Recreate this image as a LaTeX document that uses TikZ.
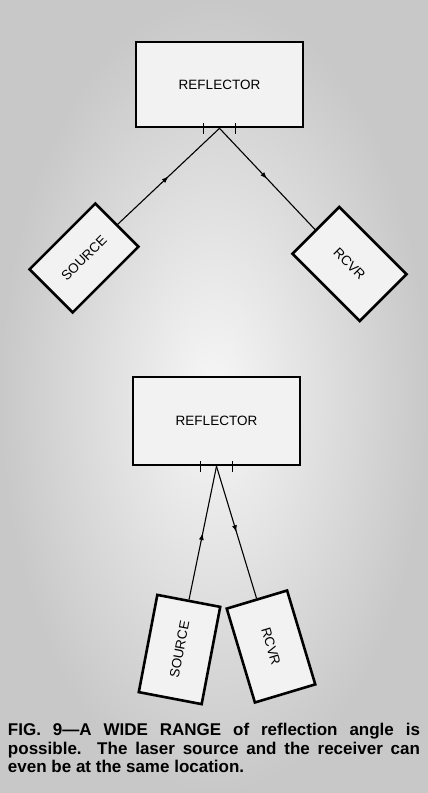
\documentclass[tikz,border=0pt]{standalone}
\usepackage{fontspec}
\setmainfont{Liberation Sans}
\usetikzlibrary{arrows.meta, positioning, decorations.markings}
\definecolor{paperColor}{HTML}{C8C8C8}
\definecolor{boxColor}{HTML}{F2F2F2}

\begin{document}
\begin{tikzpicture}[x=1pt, y=-1pt,
    unit/.style={rectangle, draw=black, fill=boxColor, line width=2.6pt, inner sep=0pt,
        font=\fontsize{13.5}{15}\selectfont},
    beam/.style={line width=1.1pt, postaction={decorate},
        decoration={markings, mark=at position 0.5 with {\arrow{Latex[length=7pt, width=5pt]}}}},
    hitmark/.style={line width=1.6pt}]
    % paper
    \shade[inner color=white!85!paperColor, outer color=paperColor] (0,0) rectangle (428,793);

    % upper case: wide angle
    \node[unit, minimum width=167pt, minimum height=85pt] (refA) at (219.5,84.5) {REFLECTOR};
    \node[unit, minimum width=93pt, minimum height=61pt, rotate=45] (srcA) at (84,258) {SOURCE};
    \node[unit, minimum width=95pt, minimum height=66pt, rotate=-45] (rcvA) at (349.5,264) {RCVR};
    \coordinate (hitA) at (refA.south);
    \draw[hitmark] ([xshift=-16pt]hitA) ++(0,-5) -- ++(0,11);
    \draw[hitmark] ([xshift=16pt]hitA) ++(0,-5) -- ++(0,11);
    \draw[beam] (srcA.east) -- (hitA);
    \draw[beam] (hitA) -- (rcvA.west);

    % lower case: same location
    \node[unit, minimum width=167pt, minimum height=88pt] (refB) at (216.5,421) {REFLECTOR};
    \node[unit, minimum width=99pt, minimum height=64pt, rotate=79.2] (srcB) at (179.5,649.5) {SOURCE};
    \node[unit, minimum width=98pt, minimum height=63pt, rotate=-73.3] (rcvB) at (271,646.5) {RCVR};
    \coordinate (hitB) at (refB.south);
    \draw[hitmark] ([xshift=-16pt]hitB) ++(0,-5) -- ++(0,11);
    \draw[hitmark] ([xshift=16pt]hitB) ++(0,-5) -- ++(0,11);
    \draw[beam] (srcB.east) -- (hitB);
    \draw[beam] (hitB) -- (rcvB.west);

    % caption
    \node[text width=412pt, align=justify, inner sep=0pt, font=\bfseries\fontsize{17}{18.5}\selectfont] (caption) at (214,748)
        {FIG. 9---A WIDE RANGE of reflection angle is\linebreak possible. The laser source and the receiver can\linebreak even be at the same location.};
\end{tikzpicture}
\end{document}
